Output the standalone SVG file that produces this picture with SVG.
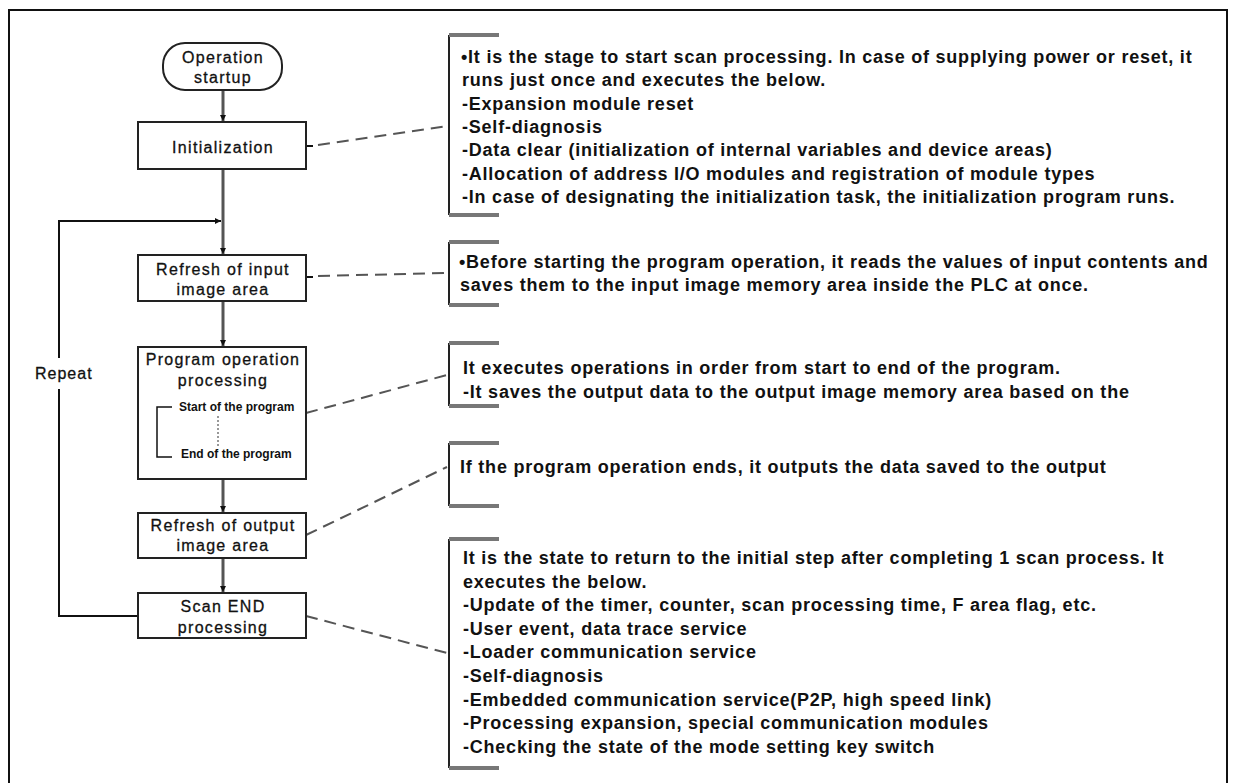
<svg xmlns="http://www.w3.org/2000/svg" width="1236" height="783" viewBox="0 0 1236 783">
<style>
.box{fill:#fff;stroke:#222;stroke-width:2}
.lbl{font-family:"Liberation Sans",Arial,sans-serif;font-size:16px;letter-spacing:1.3px;fill:#111;stroke:#111;stroke-width:0.3;text-anchor:middle}
.rep{font-family:"Liberation Sans",Arial,sans-serif;font-size:16px;letter-spacing:1px;fill:#111;stroke:#111;stroke-width:0.3}
.small{font-family:"Liberation Sans",Arial,sans-serif;font-size:12px;font-weight:bold;fill:#111}
.desc{font-family:"Liberation Sans",Arial,sans-serif;font-size:18px;font-weight:bold;letter-spacing:0.78px;fill:#111}
.flow{fill:none;stroke:#555;stroke-width:3}
.loop{fill:none;stroke:#111;stroke-width:2}
.dash{fill:none;stroke:#555;stroke-width:2;stroke-dasharray:12 7}
.stub{fill:none;stroke:#111;stroke-width:2}
.brk{fill:none;stroke:#222;stroke-width:2}
.tick{fill:none;stroke:#777;stroke-width:4}
</style>
<defs>
<marker id="ah" viewBox="0 0 10 10" refX="10" refY="5" markerWidth="6" markerHeight="6" markerUnits="userSpaceOnUse" orient="auto">
<path d="M0,0 L10,5 L0,10 z" fill="#111"/>
</marker>
</defs>
<rect x="0" y="0" width="1236" height="783" fill="#fff"/>
<rect x="9" y="10" width="1218" height="790" fill="none" stroke="#111" stroke-width="2"/>

<g id="connectors">
<line class="flow" x1="223" y1="90" x2="223" y2="121" marker-end="url(#ah)"/>
<line class="flow" x1="223" y1="169" x2="223" y2="254" marker-end="url(#ah)"/>
<line class="flow" x1="223" y1="301" x2="223" y2="346" marker-end="url(#ah)"/>
<line class="flow" x1="223" y1="479" x2="223" y2="512" marker-end="url(#ah)"/>
<line class="flow" x1="223" y1="558" x2="223" y2="592" marker-end="url(#ah)"/>
<polyline class="loop" points="138,616 59,616 59,389"/>
<polyline class="loop" points="59,358 59,221 221,221" marker-end="url(#ah)"/>
<line class="stub" x1="306" y1="146" x2="313" y2="146"/>
<line class="dash" x1="318" y1="145" x2="447" y2="126"/>
<line class="stub" x1="306" y1="277" x2="313" y2="277"/>
<line class="dash" x1="318" y1="276" x2="447" y2="273"/>
<line class="dash" x1="306" y1="413" x2="447" y2="375"/>
<line class="dash" x1="306" y1="535" x2="447" y2="467"/>
<line class="dash" x1="306" y1="616" x2="447" y2="653"/>
</g>

<g id="n-start">
<rect class="box" x="163" y="43" width="119" height="47" rx="22" ry="22"/>
<text class="lbl" x="223" y="63">Operation</text>
<text class="lbl" x="223" y="83">startup</text>
</g>
<g id="n-init">
<rect class="box" x="138" y="122" width="168" height="47"/>
<text class="lbl" x="223" y="153">Initialization</text>
</g>
<g id="n-input">
<rect class="box" x="138" y="255" width="168" height="46"/>
<text class="lbl" x="223" y="275">Refresh of input</text>
<text class="lbl" x="223" y="295">image area</text>
</g>
<g id="n-program">
<rect class="box" x="138" y="347" width="168" height="132"/>
<text class="lbl" x="223" y="365">Program operation</text>
<text class="lbl" x="223" y="386">processing</text>
<polyline fill="none" stroke="#111" stroke-width="1.5" points="172,407 157,407 157,457 172,457"/>
<line x1="218" y1="416" x2="218" y2="447" stroke="#777" stroke-width="1.5" stroke-dasharray="2 2"/>
<text class="small" x="179" y="411">Start of the program</text>
<text class="small" x="181" y="458">End of the program</text>
</g>
<g id="n-output">
<rect class="box" x="138" y="513" width="168" height="45"/>
<text class="lbl" x="223" y="531">Refresh of output</text>
<text class="lbl" x="223" y="551">image area</text>
</g>
<g id="n-end">
<rect class="box" x="138" y="593" width="168" height="45"/>
<text class="lbl" x="223" y="612">Scan END</text>
<text class="lbl" x="223" y="633">processing</text>
</g>
<g id="n-repeat">
<text class="rep" x="35" y="379">Repeat</text>
</g>

<g id="note-init">
<polyline class="brk" points="449,35 449,215"/>
<line class="tick" x1="449" y1="35" x2="499" y2="35"/>
<line class="tick" x1="449" y1="215" x2="499" y2="215"/>
<text class="desc" x="461" y="63">•It is the stage to start scan processing. In case of supplying power or reset, it</text>
<text class="desc" x="462" y="86.3">runs just once and executes the below.</text>
<text class="desc" x="462" y="109.6">-Expansion module reset</text>
<text class="desc" x="462" y="132.9">-Self-diagnosis</text>
<text class="desc" x="462" y="156.2">-Data clear (initialization of internal variables and device areas)</text>
<text class="desc" x="462" y="179.5">-Allocation of address I/O modules and registration of module types</text>
<text class="desc" x="462" y="202.8">-In case of designating the initialization task, the initialization program runs.</text>
</g>
<g id="note-input">
<polyline class="brk" points="449,242 449,305"/>
<line class="tick" x1="449" y1="242" x2="499" y2="242"/>
<line class="tick" x1="449" y1="305" x2="499" y2="305"/>
<text class="desc" x="459" y="268">•Before starting the program operation, it reads the values of input contents and</text>
<text class="desc" x="460" y="291">saves them to the input image memory area inside the PLC at once.</text>
</g>
<g id="note-program">
<polyline class="brk" points="449,343 449,406"/>
<line class="tick" x1="449" y1="343" x2="499" y2="343"/>
<line class="tick" x1="449" y1="406" x2="499" y2="406"/>
<text class="desc" x="463" y="374">It executes operations in order from start to end of the program.</text>
<text class="desc" x="463" y="398">-It saves the output data to the output image memory area based on the</text>
</g>
<g id="note-output">
<polyline class="brk" points="449,443 449,506"/>
<line class="tick" x1="449" y1="443" x2="499" y2="443"/>
<line class="tick" x1="449" y1="506" x2="499" y2="506"/>
<text class="desc" x="460" y="473">If the program operation ends, it outputs the data saved to the output</text>
</g>
<g id="note-end">
<polyline class="brk" points="449,539 449,768"/>
<line class="tick" x1="449" y1="539" x2="499" y2="539"/>
<line class="tick" x1="449" y1="768" x2="499" y2="768"/>
<text class="desc" x="463" y="564">It is the state to return to the initial step after completing 1 scan process. It</text>
<text class="desc" x="463" y="587.6">executes the below.</text>
<text class="desc" x="463" y="611.2">-Update of the timer, counter, scan processing time, F area flag, etc.</text>
<text class="desc" x="463" y="634.8">-User event, data trace service</text>
<text class="desc" x="463" y="658.4">-Loader communication service</text>
<text class="desc" x="463" y="682">-Self-diagnosis</text>
<text class="desc" x="463" y="705.6">-Embedded communication service(P2P, high speed link)</text>
<text class="desc" x="463" y="729.2">-Processing expansion, special communication modules</text>
<text class="desc" x="463" y="752.8">-Checking the state of the mode setting key switch</text>
</g>
</svg>
